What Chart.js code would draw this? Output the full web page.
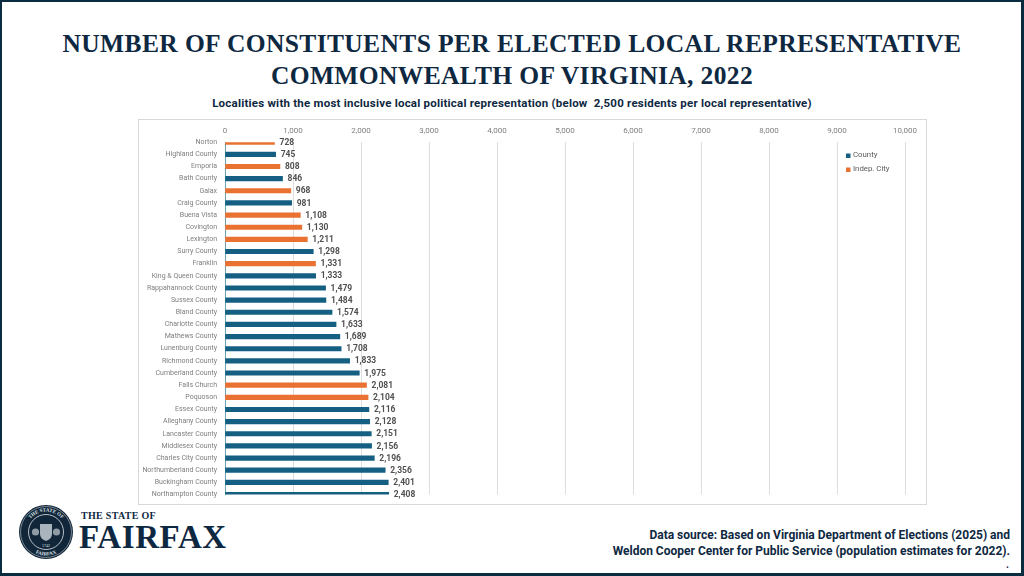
<!DOCTYPE html>
<html>
<head>
<meta charset="utf-8">
<title>Number of constituents per elected local representative</title>
<script src="https://cdn.jsdelivr.net/npm/chart.js@4"></script>
<style>
html, body { margin: 0; padding: 0; background: #fff; }
#page { position: relative; width: 1024px; height: 576px; overflow: hidden; background: #fff; }
#frame { position: absolute; left: 0; top: 0; width: 1024px; height: 576px; box-sizing: border-box;
  border: solid #0b2c3f; border-width: 2px 3px 3px 2px; pointer-events: none; }
.txt { position: absolute; white-space: nowrap; color: #0e2841; }
#title { left: 0; width: 1024px; top: 28px; text-align: center; font: bold 25.5px/32px "Liberation Serif", serif; letter-spacing: 0.38px; }
#subtitle { left: 0; width: 1024px; top: 96px; text-align: center; font: bold 11.5px/14px Roboto, sans-serif; letter-spacing: 0.22px; }
#chartBox { position: absolute; left: 138px; top: 119px; width: 789px; height: 386px; box-sizing: border-box; border: 1px solid #d9d9d9; }
#chartWrap { position: absolute; left: 138px; top: 119px; width: 789px; height: 386px; }
#source { right: 14px; top: 528px; text-align: right; font: bold 12px/15.5px Roboto, sans-serif; }
#dot { right: 15px; top: 559px; font: bold 10px/12px Roboto, sans-serif; }
#state { left: 81px; top: 509px; font: bold 10px/13px "Liberation Serif", serif; letter-spacing: 0.3px; }
#fairfax { left: 79px; top: 517px; font: bold 33px/40px "Liberation Serif", serif; letter-spacing: 0.6px; }
#seal { position: absolute; left: 18px; top: 504px; }
</style>
</head>
<body>
<div id="page">
  <div class="txt" id="title">NUMBER OF CONSTITUENTS PER ELECTED LOCAL REPRESENTATIVE<br>COMMONWEALTH OF VIRGINIA, 2022</div>
  <div class="txt" id="subtitle">Localities with the most inclusive local political representation (below&nbsp; 2,500 residents per local representative)</div>
  <div id="chartBox"></div>
  <div id="chartWrap"><canvas id="myChart" width="789" height="386"></canvas></div>
  <svg id="seal" width="56" height="56" viewBox="0 0 56 56">
    <defs>
      <path id="ringTop" d="M7.5 28 a20.5 20.5 0 0 1 41 0"/>
      <path id="ringBottom" d="M4.5 28 a23.5 23.5 0 0 0 47 0"/>
    </defs>
    <circle cx="28" cy="28" r="27" fill="#12263a"/>
    <circle cx="28" cy="28" r="25.5" fill="none" stroke="#dfe4e8" stroke-width="0.5"/>
    <circle cx="28" cy="28" r="17.5" fill="none" stroke="#dfe4e8" stroke-width="0.8"/>
    <text font-family="Liberation Serif" font-weight="bold" font-size="5" fill="#dfe4e8" text-anchor="middle">
      <textPath href="#ringTop" startOffset="50%">THE STATE OF</textPath>
    </text>
    <text font-family="Liberation Serif" font-weight="bold" font-size="5" fill="#dfe4e8" text-anchor="middle">
      <textPath href="#ringBottom" startOffset="50%">FAIRFAX</textPath>
    </text>
    <path d="M22 20 h12 v10 q0 5 -6 7 q-6 -2 -6 -7 z" fill="#aab4bc"/>
    <circle cx="17.5" cy="28" r="3.6" fill="#8f9ba5"/>
    <circle cx="38.5" cy="28" r="3.6" fill="#8f9ba5"/>
    <text x="28" y="43" font-family="Liberation Serif" font-size="4" fill="#dfe4e8" text-anchor="middle">1742</text>
  </svg>
  <div class="txt" id="state">THE STATE OF</div>
  <div class="txt" id="fairfax">FAIRFAX</div>
  <div class="txt" id="source">Data source: Based on Virginia Department of Elections (2025) and<br>Weldon Cooper Center for Public Service (population estimates for 2022).</div>
  <div class="txt" id="dot">.</div>
  <div id="frame"></div>
</div>
<script>
const categories = ['Norton', 'Highland County', 'Emporia', 'Bath County', 'Galax', 'Craig County',
  'Buena Vista', 'Covington', 'Lexington', 'Surry County', 'Franklin', 'King & Queen County',
  'Rappahannock County', 'Sussex County', 'Bland County', 'Charlotte County', 'Mathews County',
  'Lunenburg County', 'Richmond County', 'Cumberland County', 'Falls Church', 'Poquoson',
  'Essex County', 'Alleghany County', 'Lancaster County', 'Middlesex County', 'Charles City County',
  'Northumberland County', 'Buckingham County', 'Northampton County'];
const countyValues = [null, 745, null, 846, null, 981, null, null, null, 1298, null, 1333, 1479, 1484,
  1574, 1633, 1689, 1708, 1833, 1975, null, null, 2116, 2128, 2151, 2156, 2196, 2356, 2401, 2408];
const cityValues = [728, null, 808, null, 968, null, 1108, 1130, 1211, null, 1331, null, null, null,
  null, null, null, null, null, null, 2081, 2104, null, null, null, null, null, null, null, null];
const xTicks = [0, 1000, 2000, 3000, 4000, 5000, 6000, 7000, 8000, 9000, 10000];

const countyColor = '#156082';
const cityColor = '#E97132';
const fontName = 'Roboto, sans-serif';

// value labels at the end of each bar
const barLabels = {
  id: 'barLabels',
  afterDatasetsDraw(chart) {
    const ctx = chart.ctx;
    ctx.save();
    ctx.font = 'bold 8.5px ' + fontName;
    ctx.fillStyle = '#505050';
    ctx.textAlign = 'left';
    ctx.textBaseline = 'middle';
    chart.data.datasets.forEach((ds, i) => {
      chart.getDatasetMeta(i).data.forEach((bar, j) => {
        if (ds.data[j] === null) return;
        ctx.fillText(ds.data[j].toLocaleString('en-US'), bar.x + 5, bar.y + 0.5);
      });
    });
    ctx.restore();
  }
};

// legend sits inside the plot, stacked at the right
const sideLegend = {
  id: 'sideLegend',
  afterDraw(chart) {
    const ctx = chart.ctx;
    ctx.save();
    ctx.font = '7.8px ' + fontName;
    ctx.textBaseline = 'middle';
    chart.data.datasets.forEach((ds, i) => {
      const y = 36.5 + i * 14;
      ctx.fillStyle = ds.backgroundColor;
      ctx.fillRect(708, y - 2, 4.5, 4.5);
      ctx.fillStyle = '#595959';
      ctx.fillText(ds.label, 715, y);
    });
    ctx.restore();
  }
};

function initializeChart() {
  const ctx = document.getElementById('myChart').getContext('2d');
  new Chart(ctx, {
    type: 'bar',
    data: {
      labels: categories,
      datasets: [
        { label: 'County', data: countyValues, backgroundColor: countyColor, barThickness: 4.5, grouped: false },
        { label: 'Indep. City', data: cityValues, backgroundColor: cityColor, barThickness: 4.5, grouped: false }
      ]
    },
    options: {
      indexAxis: 'y',
      responsive: false,
      animation: false,
      layout: { padding: { right: 22, bottom: 10.5 } },
      plugins: { legend: { display: false }, tooltip: { enabled: false } },
      scales: {
        x: {
          position: 'top',
          min: 0,
          max: 10000,
          afterBuildTicks(scale) { scale.ticks = xTicks.map(v => ({ value: v })); },
          afterFit(scale) { scale.height = 23.2; },
          grid: { color: '#dedede', lineWidth: 1, drawTicks: false },
          border: { display: false },
          ticks: {
            color: '#7f7f7f',
            font: { family: fontName, size: 8 },
            padding: 6.5,
            maxRotation: 0,
            callback: v => v.toLocaleString('en-US')
          }
        },
        y: {
          offset: false,
          afterFit(scale) { scale.width = 87; },
          grid: { display: false },
          border: { display: true, color: '#6f9fb5', width: 1 },
          ticks: {
            color: '#7f7f7f',
            font: { family: fontName, size: 7 },
            padding: 0,
            autoSkip: false
          }
        }
      }
    },
    plugins: [barLabels, sideLegend]
  });
}

document.addEventListener('DOMContentLoaded', function () {
  initializeChart();
});
</script>
</body>
</html>
